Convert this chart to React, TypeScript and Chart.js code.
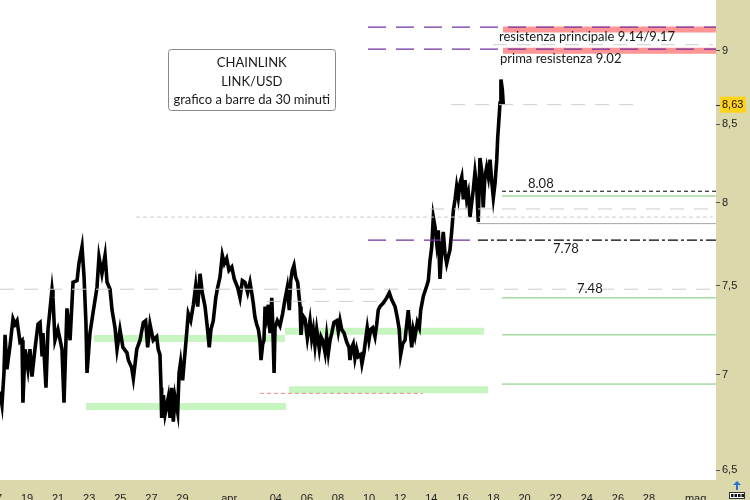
import React, { useEffect, useRef } from "react";
import { Chart, registerables } from "chart.js";
Chart.register(...registerables);

// time axis: day number counted from 1 March (32 = 1 April, 62 = 1 May)
// 30-minute bars as [day, price]
const seriesMarchA: [number, number][] = [
  [17.26, 6.91], [17.39, 6.84], [17.52, 7.01], [17.59, 7.22], [17.71, 7.03], [17.91, 7.16], [18.1, 7.31], [18.23, 7.28],
  [18.36, 7.3], [18.55, 7.18], [18.68, 7.19], [18.74, 6.85], [18.87, 7.14], [19.06, 7.03], [19.19, 7.14], [19.32, 6.99],
  [19.51, 7.14], [19.71, 7.28], [19.84, 7.29], [19.97, 7.1], [20.03, 7.23], [20.22, 6.93], [20.35, 7.25], [20.61, 7.48],
  [20.67, 7.43], [20.8, 7.19], [20.99, 7.25], [21.25, 7.14], [21.38, 6.85], [21.57, 7.37], [21.77, 7.19], [21.96, 7.52],
  [22.22, 7.53], [22.34, 7.63], [22.54, 7.73], [22.67, 7.55], [22.79, 7.29], [22.86, 7.01], [23.05, 7.23], [23.24, 7.34],
  [23.5, 7.49], [23.63, 7.67], [23.82, 7.57], [24.02, 7.68], [24.15, 7.52], [24.34, 7.48], [24.47, 7.36], [24.66, 7.26],
  [24.79, 7.14], [24.98, 7.25], [25.17, 7.15], [25.43, 7.12],
];
const seriesMarchB: [number, number][] = [
  [25.52, 7.08], [25.73, 7.04], [25.84, 6.98], [26.06, 7.14], [26.27, 7.19], [26.48, 7.29], [26.63, 7.3], [26.76, 7.15],
  [26.91, 7.28], [27.12, 7.19], [27.34, 7.21], [27.44, 7.14], [27.55, 7.11], [27.62, 6.93], [27.66, 6.77], [27.77, 6.89],
  [27.88, 6.79], [28.09, 6.88], [28.2, 6.77], [28.31, 6.93], [28.41, 6.75], [28.52, 6.88], [28.69, 6.8], [28.78, 7.01],
  [28.88, 7.07], [29.01, 6.97], [29.16, 7.12], [29.27, 7.23], [29.37, 7.34], [29.53, 7.3], [29.7, 7.39], [29.85, 7.5],
  [29.98, 7.38], [30.13, 7.57], [30.27, 7.46], [30.45, 7.38], [30.6, 7.26], [30.72, 7.15], [30.83, 7.25], [30.98, 7.3],
  [31.14, 7.43], [31.26, 7.49], [31.41, 7.55], [31.56, 7.68], [31.69, 7.63], [31.84, 7.66], [31.99, 7.59], [32.17, 7.61],
  [32.33, 7.54], [32.55, 7.49], [32.7, 7.43], [32.85, 7.53], [33.02, 7.52], [33.19, 7.46], [33.34, 7.52],
];
const seriesAprilA: [number, number][] = [
  [33.45, 7.46], [33.55, 7.4], [33.66, 7.32], [33.77, 7.28], [33.88, 7.25], [33.98, 7.19], [34.05, 7.08], [34.16, 7.17],
  [34.24, 7.19], [34.31, 7.38], [34.42, 7.32], [34.52, 7.39], [34.63, 7.23], [34.74, 7.43], [34.8, 7.29], [34.89, 7.01],
  [34.95, 7.26], [35.1, 7.3], [35.27, 7.27], [35.44, 7.34], [35.59, 7.42], [35.74, 7.49], [35.87, 7.36], [35.96, 7.53],
  [36.06, 7.59], [36.17, 7.62], [36.28, 7.55], [36.41, 7.52], [36.56, 7.38], [36.62, 7.22], [36.73, 7.33], [36.88, 7.31],
  [37.03, 7.2], [37.2, 7.3], [37.31, 7.2], [37.41, 7.25], [37.52, 7.16], [37.63, 7.25], [37.8, 7.14], [37.91, 7.21],
  [38.02, 7.19], [38.17, 7.12], [38.27, 7.21], [38.38, 7.12], [38.49, 7.19], [38.6, 7.23], [38.74, 7.29], [38.92, 7.3],
  [39.02, 7.24], [39.13, 7.3], [39.24, 7.25], [39.39, 7.23], [39.56, 7.18], [39.71, 7.15], [39.77, 7.08], [39.88, 7.15],
  [39.98, 7.17], [40.09, 7.09], [40.2, 7.14], [40.31, 7.1], [40.46, 7.11], [40.54, 7.06], [40.67, 7.12], [40.8, 7.21],
  [40.88, 7.26], [40.99, 7.19], [41.1, 7.25], [41.23, 7.26], [41.38, 7.21], [41.49, 7.28], [41.59, 7.36], [41.7, 7.38],
];
const seriesAprilB: [number, number][] = [
  [41.91, 7.4], [42.13, 7.43], [42.3, 7.46], [42.45, 7.42], [42.67, 7.38], [42.81, 7.32], [42.94, 7.25], [43.03, 7.11],
  [43.16, 7.17], [43.31, 7.19], [43.42, 7.28], [43.52, 7.36], [43.63, 7.25], [43.74, 7.15], [43.84, 7.25], [43.95, 7.21],
  [44.1, 7.29], [44.23, 7.26], [44.32, 7.36], [44.49, 7.44], [44.71, 7.5], [44.81, 7.53], [44.92, 7.65], [45.03, 7.73],
  [45.13, 7.91], [45.24, 7.85], [45.35, 7.75], [45.45, 7.83], [45.56, 7.54], [45.67, 7.71], [45.77, 7.82], [45.88, 7.69],
  [45.99, 7.63], [46.09, 7.67], [46.2, 7.71], [46.31, 7.82], [46.42, 7.95], [46.53, 8.02], [46.63, 8.1], [46.74, 8.03],
  [46.85, 8.12], [46.96, 8.16], [47.06, 8.02], [47.17, 8.14], [47.28, 8.02], [47.38, 8.06], [47.49, 7.91], [47.6, 8.0],
  [47.7, 8.08], [47.81, 8.19], [47.92, 8.1], [48.02, 7.88], [48.13, 8.28], [48.24, 8.2], [48.34, 7.97], [48.45, 8.16],
  [48.56, 8.22], [48.67, 8.16], [48.78, 8.27], [48.88, 8.14], [48.99, 8.03], [49.1, 8.12], [49.21, 8.27], [49.27, 8.41],
  [49.35, 8.53], [49.42, 8.64], [49.48, 8.8], [49.57, 8.73], [49.63, 8.63],
];
const lastPrice = 8.63;

const xTickDays = [17, 19, 21, 23, 25, 27, 29, 32, 35, 37, 39, 41, 43, 45, 47, 49, 51, 53, 55, 57, 59, 62];
const xTickLabels = ["17", "19", "21", "23", "25", "27", "29", "apr", "04", "06", "08", "10", "12", "14", "16", "18", "20", "22", "24", "26", "28", "mag"];
const yTickValues = [6.5, 7, 7.5, 8, 8.5, 9];

const X_MIN = 17.264;
const X_MAX = 63.31;
const Y_MIN = 6.452;
const Y_MAX = 9.359;

// horizontal levels: [price, from day, to day, style]
const levels: [number, number, number, string][] = [
  [7.2, 23.31, 35.59, "greenBand"],
  [7.24, 35.59, 48.39, "greenBand"],
  [6.83, 22.79, 35.66, "greenBand"],
  [6.92, 35.85, 48.65, "greenBand"],
  [9.147, 49.61, X_MAX, "redBand"],
  [8.998, 49.61, X_MAX, "redBand"],
  [9.165, 40.93, X_MAX, "purpleDash"],
  [9.01, 40.93, X_MAX, "purpleDash"],
  [9.04, 48.97, 63.12, "grayDash"],
  [8.63, 46.27, 58.29, "grayDash"],
  [8.07, 49.55, X_MAX, "blackDash"],
  [8.04, 49.55, X_MAX, "greenLine"],
  [7.96, 44.92, 63.12, "grayDash"],
  [7.91, 26.01, 63.12, "grayFine"],
  [7.87, 47.94, X_MAX, "graySolid"],
  [7.77, 40.93, 47.62, "purpleDash"],
  [7.77, 48.0, X_MAX, "blackDashDot"],
  [7.48, X_MIN, X_MAX, "grayDash"],
  [7.43, 49.55, X_MAX, "greenLine"],
  [7.41, 34.43, 41.7, "grayDash"],
  [7.22, 49.55, X_MAX, "greenLine"],
  [6.95, 49.55, X_MAX, "greenLine"],
  [6.9, 33.98, 44.47, "pinkDash"],
];

const levelStyles: Record<string, { color: string; width: number; dash: number[]; order: number }> = {
  greenBand: { color: "#c6f5c0", width: 7, dash: [], order: 10 },
  redBand: { color: "#ff9494", width: 6, dash: [], order: 4 },
  purpleDash: { color: "#7030a0", width: 1.3, dash: [18, 10], order: 1 },
  grayDash: { color: "#cdcdcd", width: 1, dash: [14, 10], order: 1 },
  grayFine: { color: "#cdcdcd", width: 1, dash: [4, 3], order: 1 },
  blackDash: { color: "#000000", width: 1, dash: [4, 3], order: 1 },
  blackDashDot: { color: "#000000", width: 1.2, dash: [10, 3, 3, 3], order: 1 },
  greenLine: { color: "#74c874", width: 1, dash: [], order: 1 },
  graySolid: { color: "#a4a4a4", width: 1, dash: [], order: 1 },
  pinkDash: { color: "#f08a8a", width: 1, dash: [4, 3], order: 1 },
};

// text notes anchored at [day, price]
const notes: { text: string; day: number; price: number }[] = [
  { text: "resistenza principale 9.14/9.17", day: 49.35, price: 9.097 },
  { text: "prima resistenza 9.02", day: 49.42, price: 8.943 },
  { text: "8.08", day: 51.22, price: 8.119 },
  { text: "7.78", day: 52.83, price: 7.719 },
  { text: "7.48", day: 54.37, price: 7.481 },
];
const titleLines = ["CHAINLINK", "LINK/USD", "grafico a barre da 30 minuti"];
const titleBox = { dayFrom: 28.07, dayTo: 38.84, priceTop: 9.008, priceBottom: 8.59 };

const KHAKI = "#dbd8ac";
const NOTE_FONT = "13px Lato, 'Open Sans', sans-serif";
const AXIS_FONT_FAMILY = "'Liberation Sans', Arial, sans-serif";

const zeroPadding = (s: any) => {
  s.paddingLeft = 0;
  s.paddingRight = 0;
  s.paddingTop = 0;
  s.paddingBottom = 0;
};

export default function App() {
  const ref = useRef<HTMLCanvasElement>(null);

  useEffect(() => {
    document.body.style.margin = "0";
    const canvas = ref.current;
    if (!canvas) return;
    const series = [...seriesMarchA, ...seriesMarchB, ...seriesAprilA, ...seriesAprilB];

    const datasets: any[] = [
      {
        data: series.map(([d, p]) => ({ x: d, y: p })),
        borderColor: "#000",
        borderWidth: 3.6,
        pointRadius: 0,
        tension: 0,
        order: 5,
      },
    ];
    levels.forEach(([p, a, b, k]) => {
      const s = levelStyles[k];
      datasets.push({
        data: [
          { x: a, y: p },
          { x: b, y: p },
        ],
        borderColor: s.color,
        borderWidth: s.width,
        borderDash: s.dash,
        borderCapStyle: "butt",
        pointRadius: 0,
        order: s.order,
      });
    });

    const decor = {
      id: "decor",
      beforeDraw(chart: any) {
        const { ctx, chartArea: a, width, height } = chart;
        ctx.save();
        ctx.fillStyle = KHAKI;
        ctx.fillRect(0, 0, width, height);
        ctx.fillStyle = "#ffffff";
        ctx.fillRect(a.left, a.top, a.right - a.left, a.bottom - a.top);
        ctx.restore();
      },
      afterDraw(chart: any) {
        const { ctx, chartArea: a } = chart;
        const xs = chart.scales.x;
        const ys = chart.scales.y;
        ctx.save();
        // notes
        ctx.fillStyle = "#1a1a1a";
        ctx.font = NOTE_FONT;
        ctx.textAlign = "left";
        ctx.textBaseline = "middle";
        notes.forEach((n) => {
          ctx.fillText(n.text, xs.getPixelForValue(n.day), ys.getPixelForValue(n.price));
        });
        // title box
        const bx0 = xs.getPixelForValue(titleBox.dayFrom);
        const bx1 = xs.getPixelForValue(titleBox.dayTo);
        const by0 = ys.getPixelForValue(titleBox.priceTop);
        const by1 = ys.getPixelForValue(titleBox.priceBottom);
        ctx.beginPath();
        (ctx as any).roundRect(Math.round(bx0) + 0.5, Math.round(by0) + 0.5, Math.round(bx1 - bx0), Math.round(by1 - by0), 3);
        ctx.fillStyle = "#ffffff";
        ctx.fill();
        ctx.strokeStyle = "#8a8a8a";
        ctx.lineWidth = 1;
        ctx.stroke();
        ctx.fillStyle = "#1a1a1a";
        ctx.textAlign = "center";
        const cx = (bx0 + bx1) / 2;
        titleLines.forEach((t, i) => {
          ctx.fillText(t, cx, by0 + 13.5 + i * 18.7);
        });
        // last price marker on the right axis
        const py = ys.getPixelForValue(lastPrice);
        ctx.fillStyle = "#ffd21c";
        ctx.fillRect(a.right + 4, py - 8, 26, 16);
        ctx.strokeStyle = "#333";
        ctx.beginPath();
        ctx.moveTo(a.right, Math.round(py) + 0.5);
        ctx.lineTo(a.right + 4, Math.round(py) + 0.5);
        ctx.stroke();
        ctx.fillStyle = "#111";
        ctx.font = `11px ${AXIS_FONT_FAMILY}`;
        ctx.textAlign = "left";
        ctx.fillText(String(lastPrice).replace(".", ","), a.right + 6, py + 0.5);
        // little icon bottom-right
        const ix = a.right + 21;
        ctx.fillStyle = "#2a6fd6";
        ctx.beginPath();
        ctx.moveTo(ix, a.bottom + 1);
        ctx.lineTo(ix - 4, a.bottom + 5);
        ctx.lineTo(ix + 4, a.bottom + 5);
        ctx.closePath();
        ctx.fill();
        ctx.fillRect(ix - 1, a.bottom + 5, 2, 5);
        ctx.fillStyle = "#ffffff";
        ctx.fillRect(ix - 8, a.bottom + 12, 16, 7);
        ctx.strokeStyle = "#333";
        ctx.strokeRect(ix - 7.5, a.bottom + 12.5, 15, 6);
        ctx.fillStyle = "#111";
        for (let i = 0; i < 4; i++) ctx.fillRect(ix - 6 + i * 3.5, a.bottom + 14, 2.5, 3);
        ctx.restore();
      },
    };

    const chart = new Chart(canvas, {
      type: "line",
      data: { datasets },
      options: {
        animation: false,
        responsive: false,
        layout: { padding: 0 },
        plugins: { legend: { display: false }, tooltip: { enabled: false } },
        scales: {
          x: {
            type: "linear",
            min: X_MIN,
            max: X_MAX,
            grid: { display: false },
            border: { display: false },
            afterBuildTicks: (s: any) => {
              s.ticks = xTickDays.map((v) => ({ value: v }));
            },
            afterFit: (s: any) => {
              s.height = 20;
              zeroPadding(s);
            },
            ticks: {
              autoSkip: false,
              maxRotation: 0,
              minRotation: 0,
              padding: 4,
              color: "#222",
              font: { family: AXIS_FONT_FAMILY, size: 11 },
              callback: (v: any) => {
                const i = xTickDays.indexOf(Number(v));
                return i >= 0 ? xTickLabels[i] : "";
              },
            },
          },
          y: {
            type: "logarithmic",
            position: "right",
            min: Y_MIN,
            max: Y_MAX,
            grid: { drawOnChartArea: false, drawTicks: true, tickLength: 4, color: "#555" },
            border: { display: false },
            afterBuildTicks: (s: any) => {
              s.ticks = yTickValues.map((v) => ({ value: v }));
            },
            afterFit: (s: any) => {
              s.width = 34;
              zeroPadding(s);
            },
            ticks: {
              padding: 2,
              color: "#222",
              font: { family: AXIS_FONT_FAMILY, size: 11 },
              callback: (v: any) => String(v).replace(".", ","),
            },
          },
        },
      } as any,
      plugins: [decor],
    });
    return () => chart.destroy();
  }, []);

  return <canvas ref={ref} width={750} height={500} style={{ display: "block" }} />;
}
